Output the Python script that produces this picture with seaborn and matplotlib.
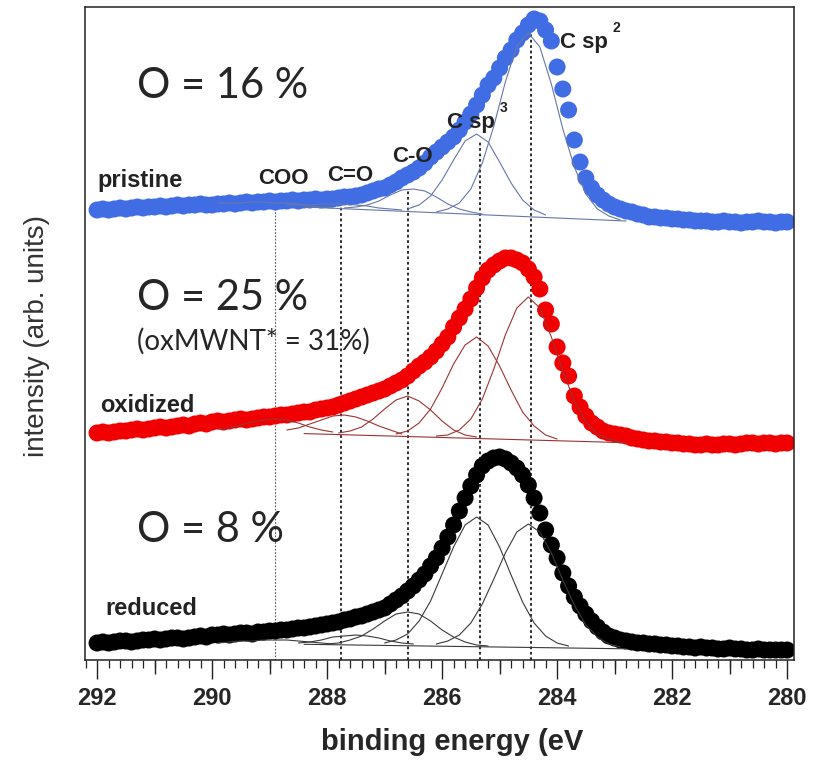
import numpy as np
import pandas as pd
import matplotlib.pyplot as plt
import seaborn as sns
from matplotlib.ticker import MultipleLocator

# binding energy of the measured points (eV), one every 0.1 eV
energy = np.round(np.linspace(292.0, 280.0, 121), 1)

# measured C1s spectra (arb. units, stacked with an offset)
pristine = [445, 446, 445, 446, 447, 446, 447, 448, 447, 448,
            448, 449, 448, 449, 450, 449, 450, 450, 451, 450,
            450, 451, 451, 452, 451, 452, 453, 452, 453, 453,
            454, 453, 454, 454, 455, 454, 455, 455, 456, 455,
            456, 456, 457, 458, 458, 459, 460, 462, 464, 466,
            467, 470, 473, 477, 480, 483, 487, 492, 498, 503,
            508, 513, 518, 525, 533, 541, 550, 560, 570, 577,
            587, 597, 605, 615, 622, 630, 636, 634, 625, 614,
            588, 566, 545, 515, 493, 477, 467, 460, 455, 451,
            448,
            446, 444, 443, 441, 440, 438, 438, 437, 437, 436,
            436, 435, 435, 434, 434, 434, 433, 433, 434, 433,
            433, 432, 433, 433, 434, 433, 433, 432, 433, 433]
oxidized = [222, 223, 222, 223, 224, 224, 225, 226, 225, 226,
            227, 228, 227, 228, 229, 230, 229, 231, 232, 231,
            233, 234, 233, 234, 235, 236, 235, 236, 237, 238,
            238, 239, 240, 240, 241, 242, 243, 243, 245, 246,
            247, 248, 250, 252, 254, 256, 258, 260, 262, 264,
            266, 269, 272, 275, 279, 284, 289, 293, 298, 304,
            311, 318, 328, 337, 346, 356, 367, 377, 385, 390,
            394, 397, 397, 395, 392, 386, 378, 366, 345, 331,
            308, 292, 279, 259, 248, 239, 232, 228, 224, 222,
            221,
            220, 219, 217, 216, 215, 214, 214, 213, 213, 212,
            212, 211, 211, 210, 210, 211, 210, 210, 211, 211,
            210, 211, 212, 212, 211, 212, 212, 211, 212, 212]
reduced = [12, 13, 12, 13, 14, 14, 13, 14, 15, 15,
           16, 15, 16, 17, 17, 16, 17, 18, 19, 18,
           20, 20, 21, 20, 21, 22, 22, 21, 23, 23,
           24, 24, 25, 25, 26, 27, 27, 28, 29, 30,
           31, 32, 33, 35, 36, 38, 39, 41, 43, 45,
           47, 51, 55, 59, 64, 69, 75, 81, 89, 97,
           107, 118, 130, 144, 157, 169, 180, 189, 194, 197,
           198, 196, 192, 187, 180, 170, 157, 142, 125, 110,
           97, 82, 69, 58, 49, 41, 34, 28, 23, 19,
           17,
           15, 14, 13, 12, 12, 11, 11, 10, 10, 9,
           9, 8, 8, 7, 8, 7, 7, 6, 6, 7,
           6, 6, 5, 5, 6, 5, 5, 5, 5, 5]

samples = ["pristine", "oxidized", "reduced"]
oxygen_labels = ["O = 16 %", "O = 25 %", "O = 8 %"]

# fitted components, values every 0.2 eV from the start energy
components = ["COO", "C=O", "C-O", "C sp3", "C sp2"]
pristine_fit_start = [289.9, 288.7, 287.7, 286.6, 286.1]
pristine_fit = [
    [452, 452, 452, 453, 453, 452, 452, 451, 449, 448, 447],
    [450, 450, 450, 451, 451, 451, 450, 449, 447, 446, 445],
    [447, 448, 450, 454, 460, 465, 466, 464, 458, 451, 446, 443, 441],
    [446, 450, 459, 475, 495, 514, 521, 513, 493, 472, 455, 445, 440],
    [443, 446, 452, 466, 492, 529, 573, 609, 622, 608, 571, 526, 488, 461, 446, 439, 435],
]
oxidized_fit_start = [289.9, 288.7, 287.8, 286.8, 286.1]
oxidized_fit = [
    [226, 227, 230, 233, 235, 236, 235, 232, 228, 225, 223],
    [225, 227, 231, 235, 239, 240, 238, 234, 229, 225, 221],
    [222, 224, 228, 236, 246, 255, 259, 254, 245, 234, 225, 220, 218],
    [221, 224, 232, 246, 267, 291, 310, 318, 309, 289, 265, 243, 229, 220, 216],
    [219, 220, 225, 236, 256, 286, 320, 347, 358, 347, 318, 284, 254, 233, 221, 216, 213],
]
reduced_fit_start = [289.9, 288.5, 288.0, 287.0, 286.1]
reduced_fit = [
    [12, 13, 14, 14, 15, 15, 15, 14, 13, 12, 11],
    [12, 13, 15, 18, 19, 20, 19, 17, 14, 12, 11],
    [11, 12, 15, 19, 26, 34, 41, 43, 41, 34, 25, 18, 13, 10, 9],
    [12, 15, 21, 34, 54, 81, 108, 130, 138, 130, 108, 80, 53, 32, 19, 12, 9],
    [11, 14, 20, 32, 51, 76, 102, 123, 131, 123, 102, 75, 50, 30, 18, 11, 8],
]

# linear backgrounds under the fits
bg_energy = [288.4, 282.8]
pristine_bg = [448, 434]
oxidized_bg = [221.4, 212.3]
reduced_bg = [10.7, 6.2]

# component positions (dotted lines) and where each line starts
peak_pos = [288.90, 287.76, 286.59, 285.34, 284.45]
peak_top = [455, 450, 465, 515, 622]

tick_values = [292, 290, 288, 286, 284, 282, 280]
mid_ticks = [291, 289, 287, 285, 283, 281]

dot_colors = {"pristine": "#416de4", "oxidized": "#f00000", "reduced": "#000000"}
fit_colors = {"pristine": "#6677aa", "oxidized": "#9a3434", "reduced": "#3a3a3a"}

# long tables for seaborn
spec = pd.DataFrame({
    "energy": np.tile(energy, 3),
    "intensity": pristine + oxidized + reduced,
    "sample": np.repeat(samples, len(energy)),
})

rows = []
fit_sets = [
    ("pristine", pristine_fit_start, pristine_fit, pristine_bg),
    ("oxidized", oxidized_fit_start, oxidized_fit, oxidized_bg),
    ("reduced", reduced_fit_start, reduced_fit, reduced_bg),
]
for name, starts, fits, bg in fit_sets:
    for comp, start, vals in zip(components, starts, fits):
        e = np.round(start - 0.2 * np.arange(len(vals)), 2)
        for x, y in zip(e, vals):
            rows.append((name, name + comp, x, y))
    for x, y in zip(bg_energy, bg):
        rows.append((name, name + "bg", x, y))
fit_df = pd.DataFrame(rows, columns=["sample", "component", "energy", "intensity"])

sns.set_theme(style="ticks")
plt.rcParams["font.family"] = ["Liberation Sans", "DejaVu Sans"]

fig = plt.figure(figsize=(8.23, 7.63), dpi=100)
ax = fig.add_axes([85 / 823, 1 - 660 / 763, 709 / 823, 653 / 763])

ax.vlines(peak_pos, -5, peak_top, colors=["#555555", "k", "k", "k", "k"],
          linewidths=[0.8, 1.3, 1.3, 1.3, 1.3], linestyles=(0, (1.5, 1.5)), zorder=1)

sns.scatterplot(data=spec, x="energy", y="intensity", hue="sample",
                palette=dot_colors, s=150, linewidth=0, legend=False,
                ax=ax, zorder=2)
sns.lineplot(data=fit_df, x="energy", y="intensity", hue="sample",
             units="component", estimator=None, sort=False,
             palette=fit_colors, linewidth=0.8, legend=False, ax=ax, zorder=3)

ax.set_xlim(292.21, 279.88)
ax.set_ylim(-5, 648)
ax.set_yticks([])
ax.set_xticks(tick_values)
ax.set_xticklabels([str(t) for t in tick_values], fontweight="bold")
ax.xaxis.set_minor_locator(MultipleLocator(0.2))
ax.tick_params(axis="x", which="major", length=13.7, width=1, labelsize=17,
               pad=6, color="#222222")
ax.tick_params(axis="x", which="minor", length=5.8, width=0.9, color="#222222")

sec = ax.secondary_xaxis("bottom")
sec.set_xticks(mid_ticks)
sec.tick_params(length=10, width=1, labelbottom=False, color="#222222")
sec.spines["bottom"].set_visible(False)

for s in ax.spines.values():
    s.set_linewidth(1.1)
    s.set_color("#222222")

ax.set_xlabel("binding energy (eV", fontsize=21, fontweight="bold")
ax.xaxis.set_label_coords(0.5176, -0.1035)
ax.set_ylabel("intensity (arb. units)", fontsize=20, color="#333333")
ax.yaxis.set_label_coords(-0.049, 0.496)

# sample names
for name, (x, y) in zip(samples, [(292.0, 468), (291.95, 243), (291.86, 40)]):
    ax.text(x, y, name, fontsize=17, fontweight="bold", color="#222222",
            ha="left", va="baseline")

# oxygen content
for lab, y in zip(oxygen_labels, [557, 345, 113]):
    ax.text(291.30, y, lab, fontsize=30, family="Lato", ha="left", va="baseline")
ax.text(291.30, 305, "(oxMWNT* = 31%)", fontsize=20, family="Lato",
        ha="left", va="baseline")

# component labels
peak_labels = [("COO", 289.20, 471), ("C=O", 288.00, 474), ("C-O", 286.87, 493),
               ("C sp", 285.91, 527), ("C sp", 283.95, 607)]
for lab, x, y in peak_labels:
    ax.text(x, y, lab, fontsize=16, fontweight="bold", color="#222222",
            ha="left", va="baseline")
ax.text(284.99, 543, "3", fontsize=10, fontweight="bold", color="#222222",
        ha="left", va="baseline")
ax.text(283.03, 623, "2", fontsize=10, fontweight="bold", color="#222222",
        ha="left", va="baseline")

fig.savefig("out.png", dpi=100)
